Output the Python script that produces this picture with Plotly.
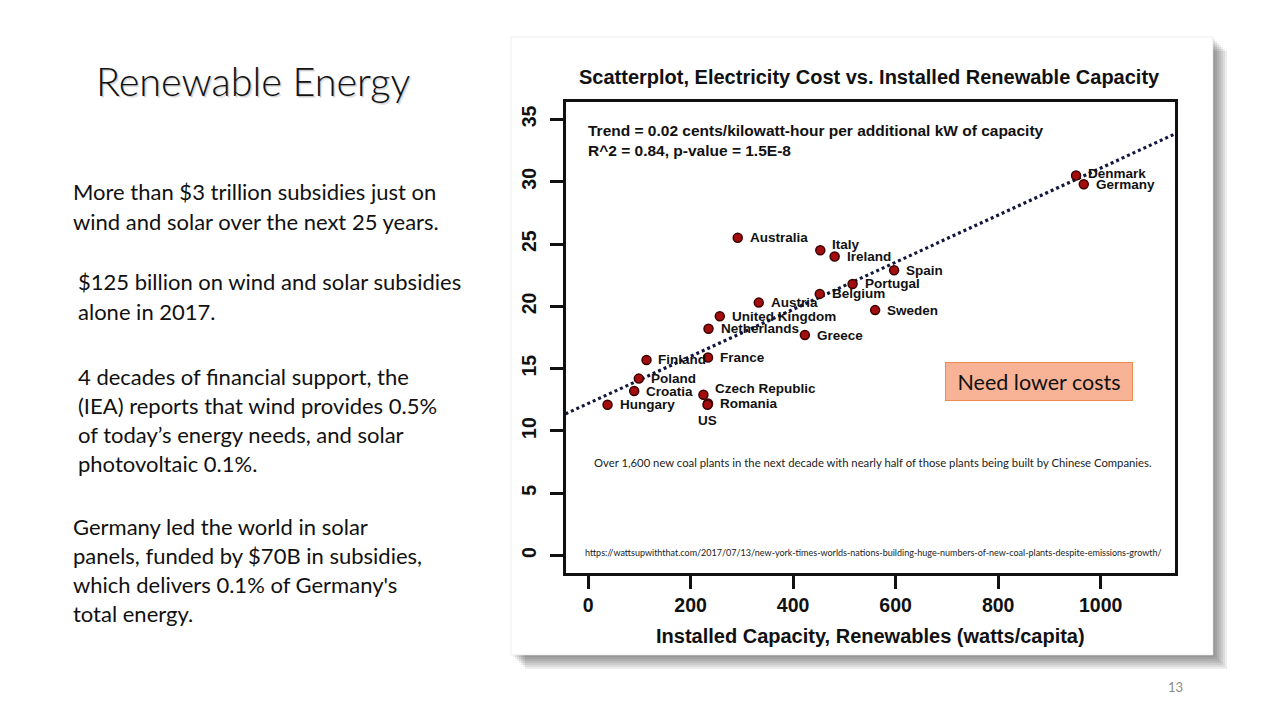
import plotly.graph_objects as go

W, H = 1280, 720

# ---------------- data ----------------
countries = ["Denmark", "Germany", "Australia", "Italy", "Ireland", "Spain", "Portugal",
             "Belgium", "Sweden", "Austria", "United Kingdom", "Netherlands", "Greece",
             "Finland", "France", "Poland", "Croatia", "Czech Republic", "Romania",
             "Hungary", "US"]
capacity = [952, 967, 292, 453, 481, 597, 516, 452, 560, 333, 257, 235, 423,
            114, 234, 99, 90, 225, 234, 38, 233]
cost = [30.5, 29.8, 25.5, 24.5, 24.0, 22.9, 21.8, 21.0, 19.7, 20.3, 19.2, 18.2, 17.7,
        15.7, 15.9, 14.2, 13.2, 12.9, 12.2, 12.1, 12.1]
label_pos = ["right"] * 20 + ["below"]

trend_intercept = 12.2
trend_slope = 0.0189
x_range = [-44, 1144]
y_range = [-1.4, 36.4]
x_ticks = [0, 200, 400, 600, 800, 1000]
y_ticks = [0, 5, 10, 15, 20, 25, 30, 35]

chart_title = "Scatterplot, Electricity Cost vs. Installed Renewable Capacity"
x_title = "Installed Capacity, Renewables (watts/capita)"
trend_text = ["Trend = 0.02 cents/kilowatt-hour per additional kW of capacity",
              "R^2 = 0.84, p-value = 1.5E-8"]
coal_note = "Over 1,600 new coal plants in the next decade with nearly half of those plants being built by Chinese Companies."
url_note = "https://wattsupwiththat.com/2017/07/13/new-york-times-worlds-nations-building-huge-numbers-of-new-coal-plants-despite-emissions-growth/"
callout = "Need lower costs"

slide_title = "Renewable Energy"
slide_lines = [
    ("More than $3 trillion subsidies just on", 73, 192),
    ("wind and solar over the next 25 years.", 73, 221),
    ("$125 billion on wind and solar subsidies", 78, 282),
    ("alone in 2017.", 78, 311),
    ("4 decades of financial support, the", 78, 376),
    ("(IEA) reports that wind provides 0.5%", 78, 405),
    ("of today\u2019s energy needs, and solar", 78, 434),
    ("photovoltaic 0.1%.", 78, 463),
    ("Germany led the world in solar", 73, 526),
    ("panels, funded by $70B in subsidies,", 73, 555),
    ("which delivers 0.1% of Germany's", 73, 584),
    ("total energy.", 73, 613),
]
page_number = "13"

# label vertical nudges (style only, pixels)
label_nudge = {"Italy": 6, "Czech Republic": 6, "Denmark": 2}

# ---------------- helpers ----------------
def px(x):
    return x / W

def py(y):
    return 1 - y / H

RFONT = "Liberation Sans Narrow, Liberation Sans, Arial, sans-serif"
SFONT = "Lato, Carlito, Calibri, sans-serif"

fig = go.Figure()

# trend line
tx = x_range
ty = [trend_intercept + trend_slope * v for v in tx]
fig.add_trace(go.Scatter(x=tx, y=ty, mode="lines",
                         line=dict(color="#13173d", width=3.2, dash="3px,3px"),
                         hoverinfo="skip", showlegend=False, cliponaxis=True))

# points
fig.add_trace(go.Scatter(x=capacity, y=cost, mode="markers",
                         marker=dict(size=9, color="#a30d0d",
                                     line=dict(color="#3d0000", width=1.5)),
                         text=countries, hoverinfo="text", showlegend=False))

annotations = []
for name, xv, yv, pos in zip(countries, capacity, cost, label_pos):
    lf = dict(family=RFONT, size=13.5, color="#111", weight="bold")
    if pos == "right":
        annotations.append(dict(x=xv, y=yv, xref="x", yref="y", text=name,
                                showarrow=False, xanchor="left", yanchor="middle",
                                xshift=10, yshift=label_nudge.get(name, 0), font=lf))
    else:
        annotations.append(dict(x=xv, y=yv, xref="x", yref="y", text=name,
                                showarrow=False, xanchor="center", yanchor="top",
                                yshift=-6, font=lf))

# chart texts
annotations.append(dict(x=px(869), y=py(77), xref="paper", yref="paper", text=chart_title,
                        showarrow=False, xanchor="center", yanchor="middle",
                        font=dict(family=RFONT, size=20, color="#111", weight="bold")))
annotations.append(dict(x=px(870), y=py(636), xref="paper", yref="paper", text=x_title,
                        showarrow=False, xanchor="center", yanchor="middle",
                        font=dict(family=RFONT, size=20, color="#111", weight="bold")))
for i, t in enumerate(trend_text):
    annotations.append(dict(x=px(586), y=py(130 + 20 * i), xref="paper", yref="paper", text=t,
                            showarrow=False, xanchor="left", yanchor="middle",
                            font=dict(family=RFONT, size=15.5, color="#111", weight="bold")))
annotations.append(dict(x=px(873), y=py(462), xref="paper", yref="paper", text=coal_note,
                        showarrow=False, xanchor="center", yanchor="middle",
                        font=dict(family=SFONT, size=11.3, color="#222")))
annotations.append(dict(x=px(873), y=py(552), xref="paper", yref="paper", text=url_note,
                        showarrow=False, xanchor="center", yanchor="middle",
                        font=dict(family=SFONT, size=9, color="#222")))
annotations.append(dict(x=px(1039), y=py(381.5), xref="paper", yref="paper", text=callout,
                        showarrow=False, xanchor="center", yanchor="middle",
                        width=184, height=35, bgcolor="#f8b396", bordercolor="#ed8a4e",
                        borderwidth=1, borderpad=1,
                        font=dict(family=SFONT, size=21.5, color="#111")))

# slide texts (title with soft shadow)
for dx, dy, col in [(2, 2, "rgba(0,0,0,0.10)"), (1.2, 1.2, "rgba(0,0,0,0.16)")]:
    annotations.append(dict(x=px(94 + dx), y=py(80 + dy), xref="paper", yref="paper", text=slide_title,
                            showarrow=False, xanchor="left", yanchor="middle",
                            font=dict(family=SFONT, size=39.5, color=col, weight=300)))
annotations.append(dict(x=px(94), y=py(80), xref="paper", yref="paper", text=slide_title,
                        showarrow=False, xanchor="left", yanchor="middle",
                        font=dict(family=SFONT, size=39.5, color="#111", weight=300)))
for t, x0, y0 in slide_lines:
    annotations.append(dict(x=px(x0 - 2), y=py(y0), xref="paper", yref="paper", text=t,
                            showarrow=False, xanchor="left", yanchor="middle",
                            font=dict(family=SFONT, size=22, color="#111")))
annotations.append(dict(x=px(1175), y=py(687), xref="paper", yref="paper", text=page_number,
                        showarrow=False, xanchor="center", yanchor="middle",
                        font=dict(family=SFONT, size=13, color="#8a8a8a")))

# card with shadow
shapes = []
cx0, cy0, cx1, cy1 = 511, 37, 1213, 655
for d in range(2, 15, 2):
    shapes.append(dict(type="rect", xref="paper", yref="paper",
                       x0=px(cx0 + d), x1=px(cx1 + d), y0=py(cy1 + d), y1=py(cy0 + d),
                       fillcolor="rgba(0,0,0,0.07)", line=dict(width=0), layer="below"))
shapes.append(dict(type="rect", xref="paper", yref="paper",
                   x0=px(cx0), x1=px(cx1), y0=py(cy1), y1=py(cy0),
                   fillcolor="white", line=dict(width=0.6, color="#e2e2e2"), layer="below"))

axis_common = dict(showline=True, mirror=True, linecolor="#111", linewidth=2.5,
                   ticks="outside", tickcolor="#111", tickwidth=2.5, ticklen=13,
                   showgrid=False, zeroline=False, fixedrange=True,
                   tickfont=dict(family=RFONT, size=19.5, color="#111", weight="bold"))

fig.update_layout(
    width=W, height=H,
    margin=dict(l=0, r=0, t=0, b=0),
    paper_bgcolor="white", plot_bgcolor="rgba(0,0,0,0)",
    xaxis=dict(domain=[px(565.5), px(1174.5)], range=x_range, tickvals=x_ticks,
               ticklabelstandoff=0, **axis_common),
    yaxis=dict(domain=[py(573), py(102)], range=y_range, tickvals=y_ticks,
               tickangle=-90, ticklabelstandoff=6, **axis_common),
    annotations=annotations, shapes=shapes,
    showlegend=False,
)

fig.write_html("out.html")
